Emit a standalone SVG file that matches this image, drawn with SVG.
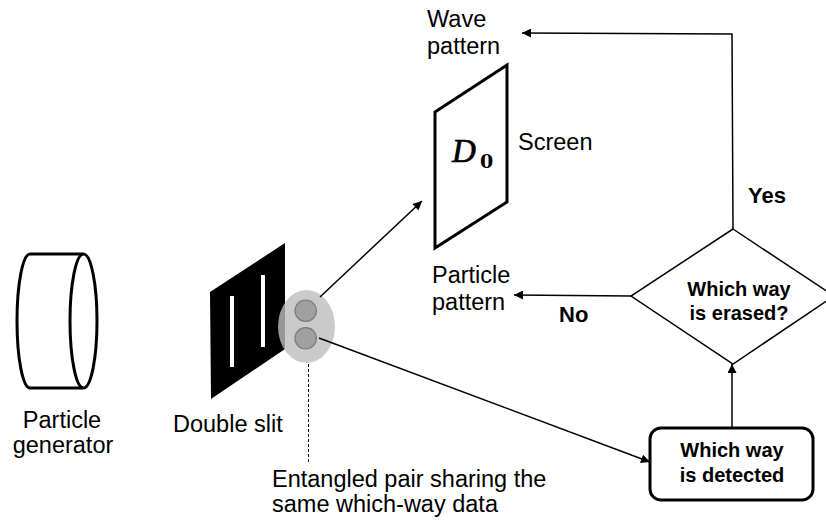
<svg xmlns="http://www.w3.org/2000/svg" width="826" height="522" viewBox="0 0 826 522">
<style>
.sans{font-family:"Liberation Sans",Arial,sans-serif;fill:#000}
.lbl{font-size:23.5px}
.b{font-size:22px;font-weight:bold}
.nb{font-size:20px;font-weight:bold}
.ln{stroke:#000;stroke-width:1.5;fill:none}
.dmath{font-family:"Liberation Serif","Times New Roman",serif;font-style:italic;font-size:33px;fill:#000;stroke:#000;stroke-width:0.7}
.sub{font-family:"DejaVu Serif","Liberation Serif",serif;font-weight:bold;font-size:19px;fill:#000}
</style>
<defs>
<marker id="ah" viewBox="0 0 10 10" refX="10" refY="5" markerWidth="11" markerHeight="9" markerUnits="userSpaceOnUse" orient="auto">
<path d="M0,0 L10,5 L0,10 z" fill="#000"/>
</marker>
</defs>
<rect width="826" height="522" fill="#fff"/>

<g id="generator">
<path d="M83,254 L30,254 A13,67 0 0 0 30,388 L83,388" fill="none" stroke="#000" stroke-width="3"/>
<ellipse cx="83.5" cy="321" rx="13.5" ry="67" fill="none" stroke="#000" stroke-width="3"/>
<text class="sans lbl" x="62" y="428" text-anchor="middle">Particle</text>
<text class="sans lbl" x="63" y="453" text-anchor="middle">generator</text>
</g>

<g id="double-slit">
<polygon points="210,292 285,243 285,349 211,399" fill="#000"/>
<rect x="230" y="296" width="4" height="71" fill="#fff"/>
<rect x="261" y="275" width="4" height="72" fill="#fff"/>
<text class="sans lbl" x="173" y="432">Double slit</text>
</g>

<g id="entangled-pair">
<ellipse cx="306.5" cy="326.5" rx="28.5" ry="36.5" fill="#bdbdbd" fill-opacity="0.8"/>
<circle cx="305.7" cy="310.7" r="10.7" fill="#a0a0a0" stroke="#7a7a7a" stroke-width="1.2"/>
<circle cx="305.7" cy="338.3" r="10.7" fill="#a0a0a0" stroke="#7a7a7a" stroke-width="1.2"/>
<line x1="308.5" y1="364" x2="308.5" y2="463" stroke="#000" stroke-width="1" stroke-dasharray="3,2"/>
<text class="sans lbl" x="272" y="487">Entangled pair sharing the</text>
<text class="sans lbl" x="272" y="512">same which-way data</text>
</g>

<g id="screen">
<polygon points="435,112 507,65 507,202 435,248" fill="#fff" stroke="#000" stroke-width="3" stroke-linejoin="miter"/>
<text class="dmath" x="452" y="162">D</text>
<text class="sub" x="480" y="168">0</text>
<text class="sans lbl" x="518" y="150">Screen</text>
</g>

<g id="wave-pattern">
<text class="sans lbl" x="427" y="27">Wave</text>
<text class="sans lbl" x="427" y="54">pattern</text>
</g>

<g id="particle-pattern">
<text class="sans lbl" x="432" y="283">Particle</text>
<text class="sans lbl" x="432" y="310">pattern</text>
</g>

<g id="decision">
<polygon points="733,229 834,296 733,364 631,296" fill="#fff" stroke="#000" stroke-width="1.5"/>
<text class="sans nb" x="739" y="296" text-anchor="middle">Which way</text>
<text class="sans nb" x="739" y="320" text-anchor="middle">is erased?</text>
</g>

<g id="detected">
<rect x="650" y="428" width="163" height="72" rx="11" ry="11" fill="#fff" stroke="#000" stroke-width="3"/>
<text class="sans nb" x="732" y="457" text-anchor="middle">Which way</text>
<text class="sans nb" x="732" y="482" text-anchor="middle">is detected</text>
</g>

<g id="connectors">
<line class="ln" x1="320" y1="297" x2="422" y2="201" marker-end="url(#ah)"/>
<line class="ln" x1="319" y1="338" x2="650" y2="462" marker-end="url(#ah)"/>
<polyline class="ln" points="733,229 732,34 522,33" marker-end="url(#ah)"/>
<line class="ln" x1="732" y1="428" x2="732" y2="364" marker-end="url(#ah)"/>
<line class="ln" x1="631" y1="296" x2="514" y2="295" marker-end="url(#ah)"/>
<text class="sans b" x="748" y="203">Yes</text>
<text class="sans b" x="559" y="322">No</text>
</g>
</svg>
